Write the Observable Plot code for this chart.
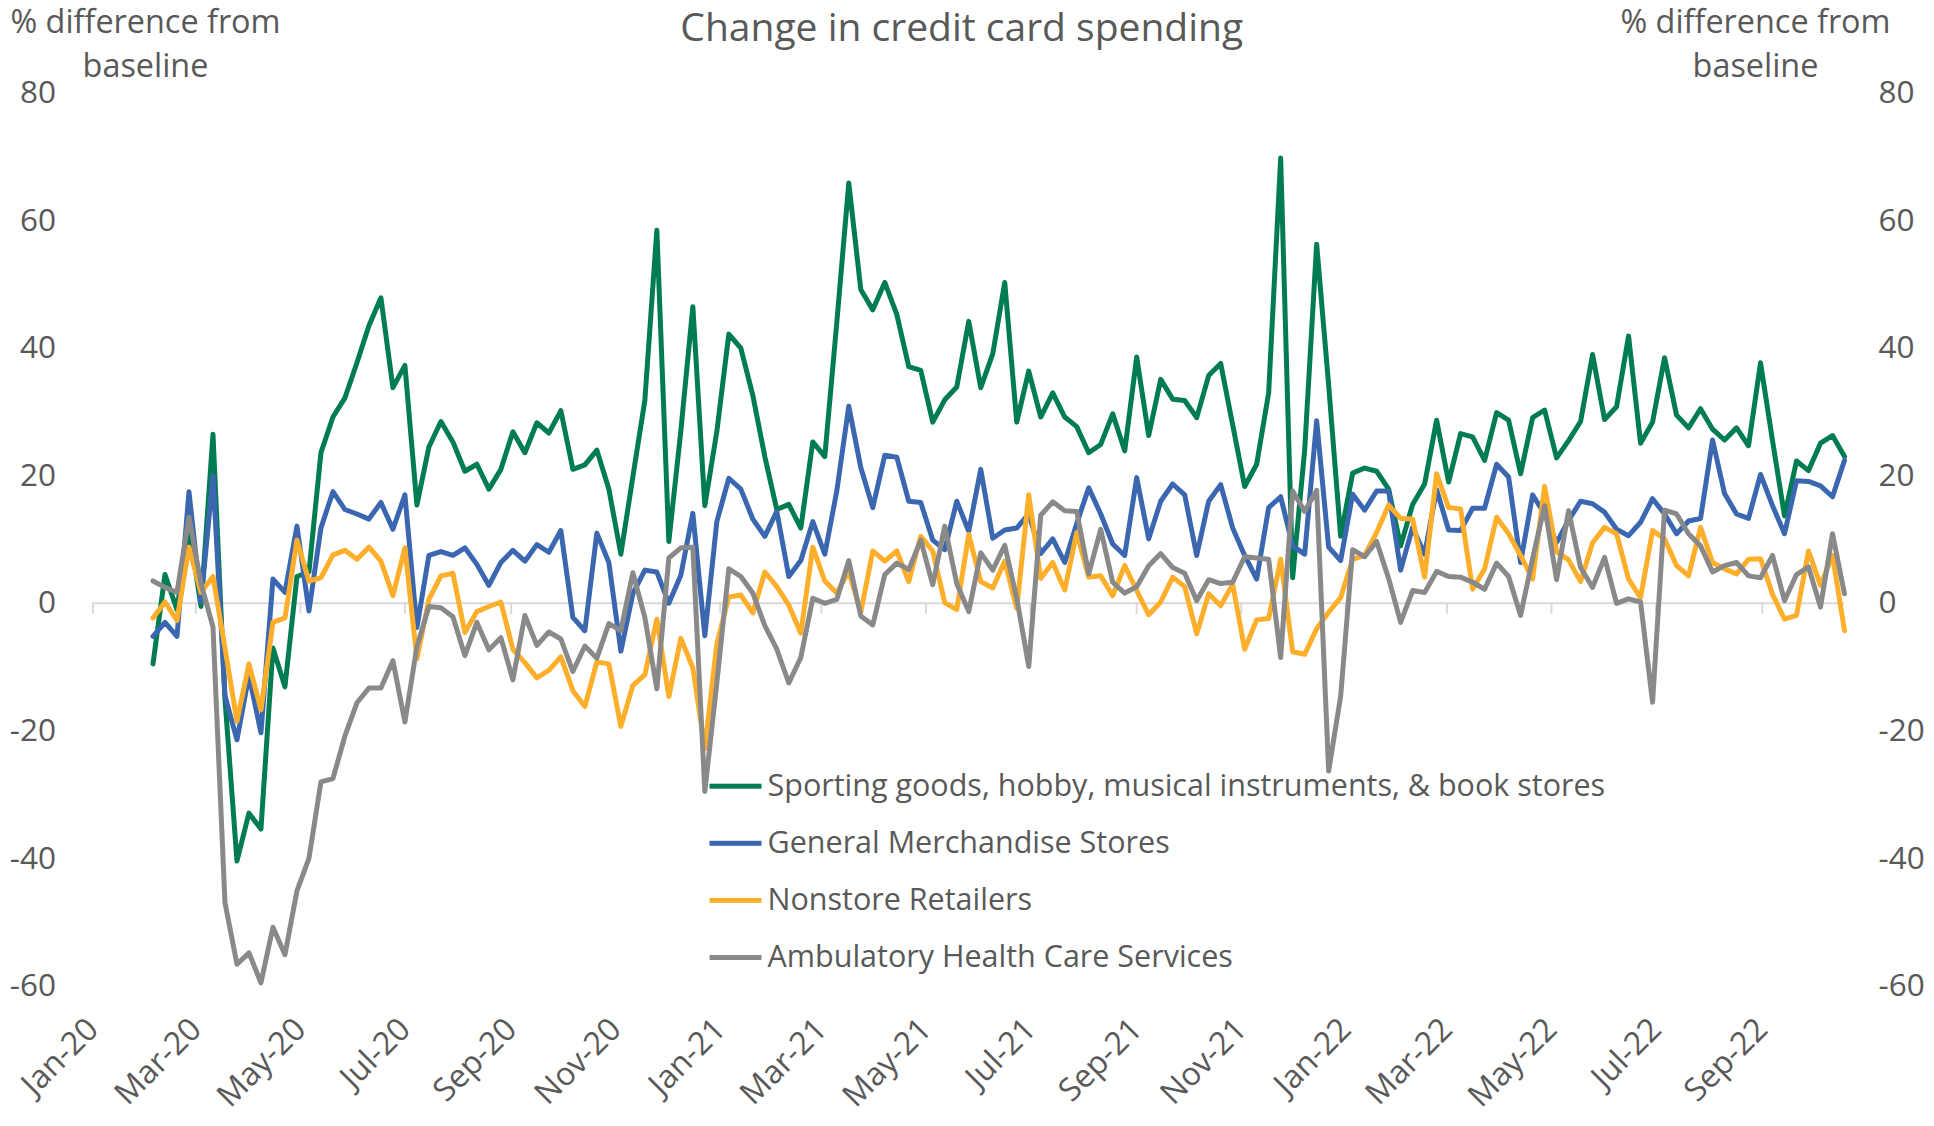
<!DOCTYPE html>
<html>
<head>
<meta charset="utf-8">
<script src="https://cdn.jsdelivr.net/npm/d3@7"></script>
<script src="https://cdn.jsdelivr.net/npm/@observablehq/plot@0.6"></script>
<style>
  html, body { margin: 0; padding: 0; background: #ffffff; }
  #chart svg { display: block; }
</style>
</head>
<body>
<div id="chart"></div>
<script>
// ---------------- DATA ----------------
const chartTitle = "Change in credit card spending";
const axisTitleLines = ["% difference from", "baseline"];
const seriesNames = [
  "Sporting goods, hobby, musical instruments, & book stores",
  "General Merchandise Stores",
  "Nonstore Retailers",
  "Ambulatory Health Care Services"
];
const seriesColors = ["#007d50", "#3b67b1", "#fdae2a", "#898989"];
const firstWeek = "2020-02-05"; // weekly observations start
const xTickLabels = ["Jan-20","Mar-20","May-20","Jul-20","Sep-20","Nov-20","Jan-21","Mar-21","May-21","Jul-21","Sep-21","Nov-21","Jan-22","Mar-22","May-22","Jul-22","Sep-22"];
const yTicks = [-60, -40, -20, 0, 20, 40, 60, 80];

const sporting = [
  -9.5, 4.5, -1, 12, -0.5, 26.5, -15, -40.4, -32.9, -35.4, -7, -13.1, 4.2, 4.9, 23.6, 29.2, 32.2, 37.7, 43.5, 47.9,
  33.8, 37.3, 15.4, 24.5, 28.5, 25.3, 20.7, 21.8, 17.9, 21, 26.9, 23.6, 28.3, 26.7, 30.2, 21, 21.7, 24, 17.9, 7.7,
  19.8, 31.8, 58.5, 9.7, 27, 46.5, 15.3, 26.9, 42.2, 40, 32.6, 23, 14.7, 15.5, 11.8, 25.3, 23, 44, 65.9, 49.2,
  46, 50.3, 45.3, 37.1, 36.5, 28.4, 31.9, 33.9, 44.2, 33.8, 39.1, 50.3, 28.4, 36.4, 29.2, 33, 29.2, 27.7, 23.6, 24.9,
  29.7, 23.9, 38.6, 26.3, 35.1, 32, 31.8, 29.1, 35.7, 37.6, 28, 18.3, 21.8, 33, 69.8, 4, 24, 56.3, 34.2, 10.5,
  20.4, 21.2, 20.7, 17.9, 9, 15.5, 18.7, 28.7, 19, 26.6, 26.1, 22.4, 29.9, 28.7, 20.3, 29.1, 30.3, 22.8, 25.5, 28.5,
  39, 28.8, 30.8, 41.9, 25.1, 28.4, 38.5, 29.5, 27.5, 30.5, 27.3, 25.6, 27.5, 24.7, 37.7, 25.5, 13.7, 22.3, 20.8, 25.1,
  26.3, 23
];
const generalMerch = [
  -5.2, -3, -5.2, 17.5, 0.2, 20, -14.5, -21.4, -11.3, -20.3, 3.8, 1.7, 12.1, -1.2, 11.8, 17.5, 14.7, 14, 13.2, 15.8,
  11.6, 17, -3.8, 7.5, 8.1, 7.5, 8.7, 6.1, 2.8, 6.4, 8.3, 6.6, 9.2, 8, 11.4, -2.2, -4.3, 11, 6.4, -7.5,
  1.5, 5.2, 4.9, 0, 4.4, 14.1, -5.1, 12.8, 19.6, 17.9, 13.2, 10.5, 14.4, 4.2, 6.7, 12.8, 7.7, 17.6, 30.9, 21.3,
  15, 23.2, 22.9, 16, 15.8, 9.9, 8.4, 16, 11.3, 21, 10.2, 11.5, 11.8, 14, 7.8, 10.1, 6.4, 12.5, 18.1, 14,
  9.3, 7.5, 19.7, 10.1, 16, 18.7, 17, 7.5, 16, 18.6, 11.8, 7.5, 3.8, 15, 16.7, 9, 7.7, 28.6, 8.8, 6.7,
  17.1, 14.6, 17.6, 17.6, 5.2, 11.9, 7.7, 17.8, 11.5, 11.4, 14.9, 14.9, 21.8, 19.8, 6.4, 17, 14, 9.5, 13, 16,
  15.6, 14.3, 11.6, 10.6, 12.7, 16.4, 14, 10.9, 12.9, 13.3, 25.6, 17.2, 14, 13.3, 20.2, 15.3, 10.9, 19.2, 19.1, 18.4,
  16.7, 22.4
];
const nonstore = [
  -2.3, 0.2, -2.7, 8.8, 1.7, 4.2, -7, -18.5, -9.5, -16.7, -3, -2.3, 9.9, 3.5, 4, 7.6, 8.3, 6.9, 8.8, 6.6,
  1.2, 8.7, -8.7, 0.6, 4.3, 4.7, -4.6, -1.3, -0.5, 0.2, -7.2, -9.3, -11.7, -10.5, -8.4, -13.7, -16.2, -9.2, -9.5, -19.3,
  -12.9, -11.2, -2.5, -14.6, -5.5, -10.1, -22.8, -6.4, 1, 1.3, -1.5, 4.9, 2.6, -0.3, -4.7, 8.8, 3.5, 1.6, 5, -1.4,
  8.2, 6.6, 8.2, 3.4, 10.5, 8.2, 0.1, -1, 10.8, 3.4, 2.4, 6.6, -0.8, 17, 3.9, 6.4, 2.1, 11.1, 4.1, 4.3,
  1.2, 5.9, 2, -1.8, 0.2, 4.1, 2.6, -4.8, 1.5, -0.4, 3, -7.2, -2.6, -2.4, 6.9, -7.6, -8, -4, -1.4, 0.9,
  6.9, 7.5, 11.1, 15.4, 13.3, 13.2, 4.1, 20.3, 15, 14.8, 2.2, 5.4, 13.5, 10.9, 7.5, 3.8, 18.3, 8.1, 6.8, 3.4,
  9.5, 11.9, 10.9, 3.8, 0.9, 11.4, 10.1, 5.9, 4.3, 11.9, 6.4, 5.4, 4.6, 6.9, 7, 1.4, -2.5, -1.9, 8.2, 2.8,
  7.5, -4.3
];
const ambulatory = [
  3.5, 2.5, 1.7, 13.5, 3.1, -3.7, -46.9, -56.6, -54.8, -59.5, -50.8, -55.1, -45.1, -40, -28, -27.5, -20.8, -15.6, -13.3, -13.3,
  -9, -18.6, -6.8, -0.5, -0.7, -2.1, -8.2, -3, -7.3, -5.4, -12, -1.9, -6.6, -4.5, -5.6, -10.7, -6.7, -8.6, -3.2, -4.3,
  4.8, -2.2, -13.4, 7.1, 8.7, 8.8, -29.5, -12.5, 5.4, 4.2, 1.6, -3.5, -7.2, -12.5, -8.5, 0.8, 0, 0.6, 6.7, -2,
  -3.4, 4.5, 6.3, 5.3, 9.9, 2.9, 12.1, 3.1, -1.3, 7.9, 5.2, 9.1, 0.8, -9.9, 13.8, 15.9, 14.5, 14.4, 4.6, 11.6,
  3.3, 1.6, 2.6, 5.9, 7.8, 5.6, 4.7, 0.4, 3.7, 3.1, 3.3, 7.3, 7.1, 6.9, -8.5, 17.6, 14.4, 17.7, -26.3, -14.6,
  8.4, 7.3, 9.7, 3.9, -3, 2, 1.7, 5, 4.2, 4.1, 3.3, 2.2, 6.3, 4.2, -1.9, 7, 15.3, 3.7, 14.5, 5.6,
  2.5, 7.2, 0, 0.7, 0.2, -15.5, 14.6, 14, 10.9, 9, 4.9, 5.9, 6.4, 4.3, 4, 7.5, 0.4, 4.5, 5.7, -0.6,
  10.9, 1.5
];

// ---------------- BUILD ----------------
const allSeries = [sporting, generalMerch, nonstore, ambulatory];
const start = d3.utcParse("%Y-%m-%d")(firstWeek);
const dates = sporting.map((_, i) => d3.utcDay.offset(start, 7 * i));
const rows = [];
allSeries.forEach((vals, s) => vals.forEach((v, i) => rows.push({date: dates[i], value: v, series: seriesNames[s]})));

const axisStart = d3.utcYear.floor(start);
const tickDates = xTickLabels.map((_, i) => d3.utcMonth.offset(axisStart, 2 * i));
const labelByTime = new Map(tickDates.map((d, i) => [+d, xTickLabels[i]]));

const W = 1934, H = 1126;
const mL = 92.5, mR = 90, mT = 92.5, mB = 140.5;
const yMin = yTicks[0], yMax = yTicks[yTicks.length - 1];
const pxPerUnit = (H - mT - mB) / (yMax - yMin);
const tickLen = 11 / pxPerUnit;
const textColor = "#595959";
const fontTick = 31.5, fontXTick = 32, fontLegend = 30.5, fontAxisTitle = 32.4, fontTitle = 39;

// legend layout (pixels, relative to the frame)
const legendTextDx = 674.5, legendTop = 693.2, legendGap = 57.1;
const swLeft = 616.5, swRight = 761 - 92.5, swThick = 5;
const frameW = W - mL - mR, frameH = H - mT - mB;

const legendMarks = [];
seriesNames.forEach((name, i) => {
  const cy = legendTop + i * legendGap;
  legendMarks.push(Plot.frame({
    fill: seriesColors[i], stroke: "none",
    insetLeft: swLeft, insetRight: frameW - swRight,
    insetTop: cy - swThick / 2, insetBottom: frameH - (cy + swThick / 2)
  }));
  legendMarks.push(Plot.text([name], {
    frameAnchor: "top-left", dx: legendTextDx, dy: cy, textAnchor: "start",
    lineAnchor: "middle", fontSize: fontLegend, fill: textColor
  }));
});

const leftTitleX = 145, rightTitleX = 1755, titleLine1Y = 9, titleLine2Y = 53;

const chart = Plot.plot({
  width: W, height: H,
  marginLeft: mL, marginRight: mR, marginTop: mT, marginBottom: mB,
  x: {type: "utc", domain: [axisStart, dates[dates.length - 1]], label: null},
  y: {domain: [yMin, yMax], label: null},
  color: {domain: seriesNames, range: seriesColors},
  style: {fontFamily: "'Open Sans', 'Noto Sans', sans-serif", color: textColor, background: "#ffffff", overflow: "visible"},
  marks: [
    Plot.ruleY([0], {stroke: "#d9d9d9", strokeWidth: 2}),
    Plot.ruleX(tickDates, {x: d => d, y1: 0, y2: -tickLen, stroke: "#d9d9d9", strokeWidth: 2}),
    Plot.axisY(yTicks, {anchor: "left", tickSize: 0, tickPadding: 37, fontSize: fontTick, tickFormat: d => String(d), label: null}),
    Plot.axisY(yTicks, {anchor: "right", tickSize: 0, tickPadding: 34, fontSize: fontTick, tickFormat: d => String(d), label: null}),
    Plot.axisX(tickDates, {anchor: "bottom", tickSize: 0, tickPadding: 38, tickRotate: -45, fontSize: fontXTick, tickFormat: d => labelByTime.get(+d), label: null}),
    Plot.line(rows, {x: "date", y: "value", z: "series", stroke: "series", strokeWidth: 5, strokeLinejoin: "round", strokeLinecap: "round"}),
    Plot.text([chartTitle], {frameAnchor: "top", dx: -7, dy: 12.5 - mT, fontSize: fontTitle, fill: textColor}),
    Plot.text([axisTitleLines[0]], {frameAnchor: "top-left", textAnchor: "middle", dx: leftTitleX - mL, dy: titleLine1Y - mT, fontSize: fontAxisTitle, fill: textColor}),
    Plot.text([axisTitleLines[1]], {frameAnchor: "top-left", textAnchor: "middle", dx: leftTitleX - mL, dy: titleLine2Y - mT, fontSize: fontAxisTitle, fill: textColor}),
    Plot.text([axisTitleLines[0]], {frameAnchor: "top-right", textAnchor: "middle", dx: rightTitleX - (W - mR), dy: titleLine1Y - mT, fontSize: fontAxisTitle, fill: textColor}),
    Plot.text([axisTitleLines[1]], {frameAnchor: "top-right", textAnchor: "middle", dx: rightTitleX - (W - mR), dy: titleLine2Y - mT, fontSize: fontAxisTitle, fill: textColor}),
    ...legendMarks
  ]
});
document.getElementById("chart").appendChild(chart);
</script>
</body>
</html>
